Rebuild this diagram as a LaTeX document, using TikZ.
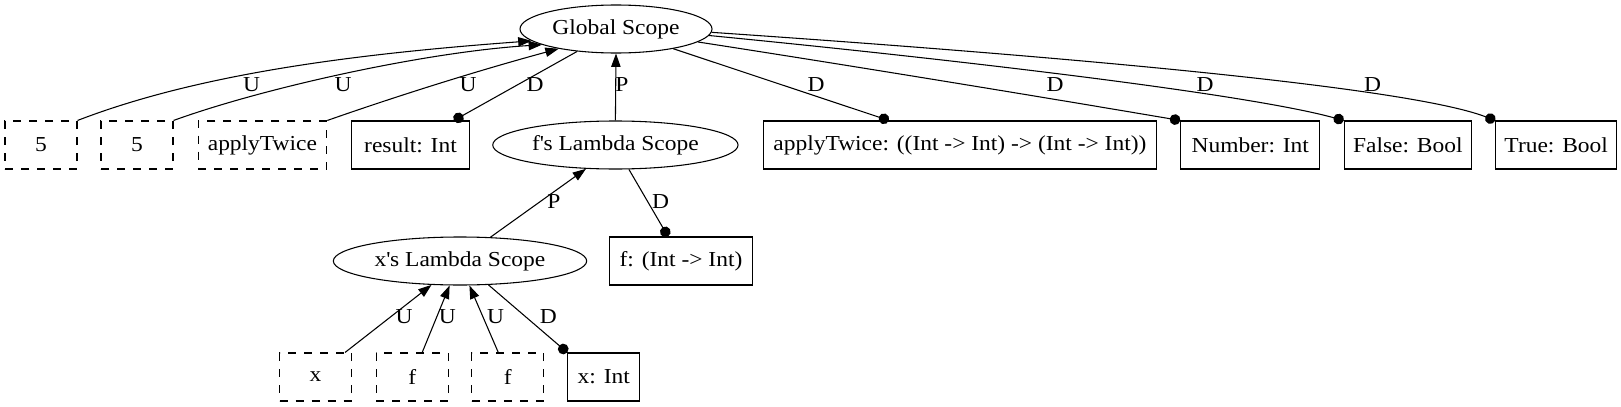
\documentclass[tikz,border=0pt]{standalone}
\usepackage{fontspec}
\setmainfont{Liberation Serif}[FakeStretch=1.1]
\usetikzlibrary{shapes.geometric,arrows.meta,calc}
\begin{document}
\begin{tikzpicture}[x=0.75pt,y=-0.75pt,
  every node/.style={font=\fontsize{16pt}{19pt}\selectfont},
  box/.style={draw,rectangle,minimum height=36pt,inner sep=0pt,line width=0.8pt},
  dbox/.style={box,dash pattern=on 6pt off 6pt},
  ell/.style={draw,ellipse,minimum height=36pt,inner sep=0pt,line width=0.8pt},
  uarr/.style={-{Triangle[length=10pt,width=7pt]},line width=0.8pt},
  darr/.style={-{Circle[length=8pt]},line width=0.8pt},
  lab/.style={inner sep=0pt}
]
\useasboundingbox (0,0) rectangle (1621,407);
% nodes
\node[ell,minimum width=144pt] (gs) at (616,29) {Global Scope};
\node[dbox,minimum width=54pt] (n5a) at (41,145) {5};
\node[dbox,minimum width=54pt] (n5b) at (137,145) {5};
\node[dbox,minimum width=96.5pt] (nat) at (262.4,145) {applyTwice};
\node[box,minimum width=88.2pt] (nres) at (410.5,145) {result: Int};
\node[ell,minimum width=184pt] (fs) at (615.4,145) {f\textquotesingle s Lambda Scope};
\node[box,minimum width=295pt] (nty) at (959.9,145) {applyTwice: ((Int -> Int) -> (Int -> Int))};
\node[box,minimum width=104.25pt] (nnum) at (1250.3,145) {Number: Int};
\node[box,minimum width=95.25pt] (nfalse) at (1407.8,145) {False: Bool};
\node[box,minimum width=90.6pt] (ntrue) at (1556.2,145) {True: Bool};
\node[ell,minimum width=190pt] (xs) at (460,261) {x\textquotesingle s Lambda Scope};
\node[box,minimum width=107.5pt] (nf) at (681,261) {f: (Int -> Int)};
\node[dbox,minimum width=54pt] (nx) at (315.5,377) {x};
\node[dbox,minimum width=54pt] (nf1) at (412.2,377) {f};
\node[dbox,minimum width=54pt] (nf2) at (507.8,377) {f};
\node[box,minimum width=54pt] (nxi) at (603.8,377) {x: Int};
% edges to / from Global Scope
\draw[uarr] (n5a.north east) .. controls (198,74) and (353,54) .. (gs.188);
\draw[uarr] (n5b.north east) .. controls (263,88) and (425,52) .. (gs.192);
\draw[uarr] (nat.north east) .. controls (400,95) and (480,70) .. (gs.199);
\draw[darr] (gs.210) -- ($(nres.north east)+(-16,0)$);
\draw[uarr] (fs.north) -- (gs.south);
\draw[darr] (gs.341) -- ($(nty.north)+(-71,0)$);
\draw[darr] (gs.351) .. controls (860,67) and (1060,100) .. (nnum.north west);
\draw[darr] (gs.356) .. controls (920,56) and (1240,92) .. (nfalse.north west);
\draw[darr] (gs.358) .. controls (1000,52) and (1400,84) .. (ntrue.north west);
% lower edges
\draw[uarr] (xs.38) -- (fs.219);
\draw[darr] (fs.299) -- ($(nf.north)+(-13,0)$);
\draw[uarr] ($(nx.north east)+(-7,0)$) -- (xs.220);
\draw[uarr] ($(nf1.north)+(10,0)$) -- (xs.247);
\draw[uarr] ($(nf2.north)+(-9.5,0)$) -- (xs.291);
\draw[darr] (xs.320) -- (nxi.north west);
% edge labels
\node[lab] (l1) at (251.7,85) {U};
\node[lab] (l2) at (343,85) {U};
\node[lab] (l3) at (468,85) {U};
\node[lab] (l4) at (535,85) {D};
\node[lab] (l5) at (622,85) {P};
\node[lab] (l6) at (816,85) {D};
\node[lab] (l7) at (1055,85) {D};
\node[lab] (l8) at (1205,85) {D};
\node[lab] (l9) at (1372.7,85) {D};
\node[lab] (l10) at (554,201.7) {P};
\node[lab] (l11) at (660.7,201.7) {D};
\node[lab] (l12) at (404,316.7) {U};
\node[lab] (l13) at (447.3,316.7) {U};
\node[lab] (l14) at (495.7,316.7) {U};
\node[lab] (l15) at (548.3,316.7) {D};
\end{tikzpicture}
\end{document}
